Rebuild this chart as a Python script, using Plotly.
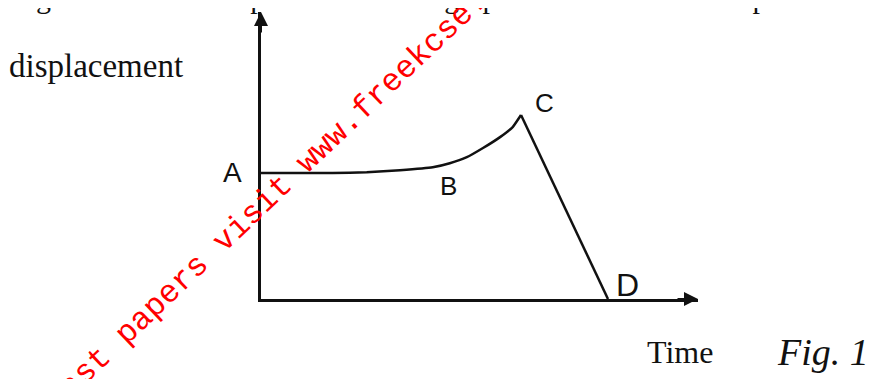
import plotly.graph_objects as go

# displacement-time graph, values (arbitrary units 0..10)
time_ac = [0, 1.64, 2.42, 3.18, 3.93, 4.32, 4.71, 5.08, 5.47, 5.76, 5.95]
disp_ac = [4.39, 4.39, 4.42, 4.49, 4.59, 4.73, 4.94, 5.26, 5.64, 5.99, 6.41]
time_cd = [5.95, 7.94]
disp_cd = [6.41, 0]

point_names = ["A", "B", "C", "D"]

W, H = 880, 379
OFF = 8  # page body margin around the plot div
L, R, T, B = 253, 190, 4, 88

def px_x(px):
    # page pixel -> paper x
    return (px - OFF - L) / (W - L - R)

def px_y(py):
    # page pixel -> paper y
    return (H - B - (py - OFF)) / (H - T - B)

fig = go.Figure()
fig.add_trace(go.Scatter(x=time_ac, y=disp_ac, mode="lines",
                         line=dict(color="#111", width=2.5, shape="spline", smoothing=0.3),
                         hoverinfo="skip"))
fig.add_trace(go.Scatter(x=time_cd, y=disp_cd, mode="lines",
                         line=dict(color="#111", width=2.5), hoverinfo="skip"))

label_pos = {"A": (232, 172, 28), "B": (448, 186, 26), "C": (544, 103, 26), "D": (627, 285, 32)}
ann = []
for n in point_names:
    lx, ly, fs = label_pos[n]
    ann.append(dict(x=px_x(lx), y=px_y(ly), xref="paper", yref="paper", text=n,
                    xanchor="center", yanchor="middle", showarrow=False,
                    font=dict(family="Liberation Sans", size=fs, color="#111")))

# arrow heads on the axes
ann.append(dict(x=0, y=10, xref="x", yref="y", ax=0, ay=22, text="", showarrow=True,
                arrowhead=2, arrowsize=1.4, arrowwidth=2, arrowcolor="#111"))
ann.append(dict(x=10, y=0, xref="x", yref="y", ax=-22, ay=0, text="", showarrow=True,
                arrowhead=2, arrowsize=1.4, arrowwidth=2, arrowcolor="#111"))

ann.append(dict(x=px_x(7), y=px_y(66), xref="paper", yref="paper",
                xanchor="left", yanchor="middle",
                text="displacement", showarrow=False,
                font=dict(family="Liberation Serif", size=33, color="#111")))
ann.append(dict(x=px_x(680), y=px_y(352), xref="paper", yref="paper",
                xanchor="center", yanchor="middle",
                text="Time", showarrow=False,
                font=dict(family="Liberation Serif", size=32, color="#111")))
ann.append(dict(x=px_x(823), y=px_y(352), xref="paper", yref="paper",
                xanchor="center", yanchor="middle",
                text="<i>Fig. 1</i>", showarrow=False,
                font=dict(family="Liberation Serif", size=38, color="#111")))
# caption line cut off at the top of the scan
ann.append(dict(x=px_x(9), y=px_y(16), xref="paper", yref="paper",
                xanchor="left", yanchor="bottom",
                text="Fig. 1 shows the displacement-time graph for the motion of a particle.",
                showarrow=False,
                font=dict(family="Liberation Serif", size=30, color="#111")))
# watermark
ann.append(dict(x=px_x(190), y=px_y(273), xref="paper", yref="paper",
                xanchor="center", yanchor="middle",
                text="For more free past papers visit www.freekcse.com",
                textangle=-43.5, showarrow=False,
                font=dict(family="Liberation Mono", size=32, color="red")))

fig.update_layout(
    width=W, height=H,
    margin=dict(l=L, r=R, t=T, b=B),
    paper_bgcolor="white", plot_bgcolor="white",
    showlegend=False,
    annotations=ann,
    xaxis=dict(range=[0, 10], showgrid=False, zeroline=False, showticklabels=False,
               ticks="", showline=True, linecolor="#111", linewidth=2.5),
    yaxis=dict(range=[0, 10], showgrid=False, zeroline=False, showticklabels=False,
               ticks="", showline=True, linecolor="#111", linewidth=2.5),
)
fig.write_html("out.html")
